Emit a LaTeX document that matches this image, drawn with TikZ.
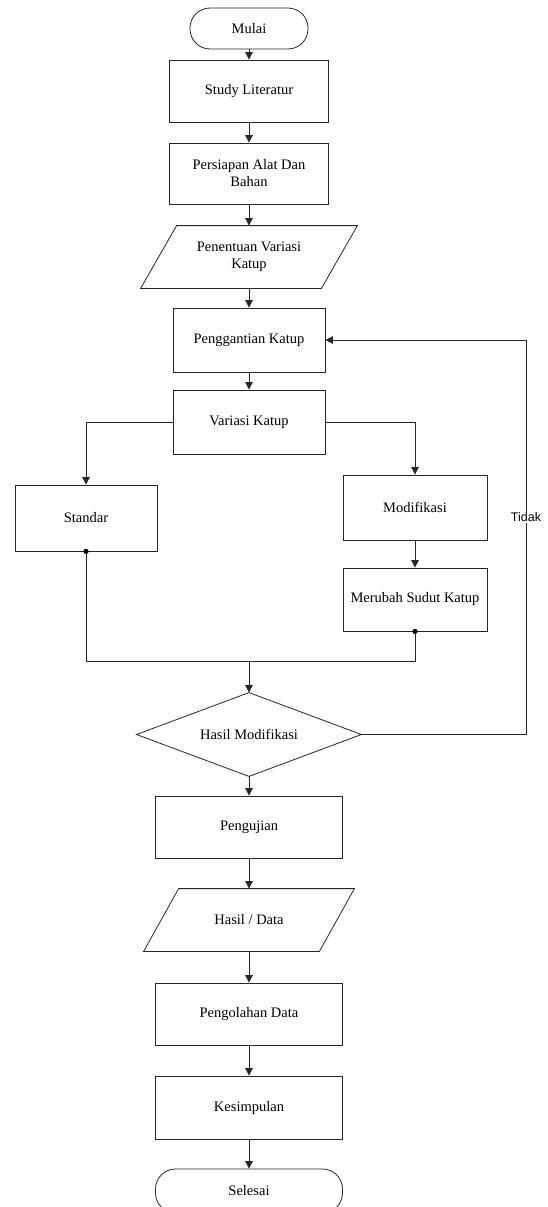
\documentclass[tikz,border=0pt]{standalone}
\usepackage{fontspec}
\setmainfont{Liberation Serif}
\newfontfamily\labelsans{Liberation Sans}
\usetikzlibrary{arrows.meta}
\tikzset{
  base/.style={font=\fontsize{14.5}{17}\selectfont, align=center, inner sep=1pt, line width=0.8pt, draw=black!85},
  procbox/.style={base, draw, rectangle},
  termbox/.style={base, draw, rectangle, rounded corners=20pt},
  shapebox/.style={base, draw=none, rectangle},
  conn/.style={line width=0.8pt, draw=black!85},
  arr/.style={conn, -{Triangle[width=7.5pt,length=7.5pt]}},
  outline/.style={line width=0.8pt, draw=black!85}
}
\begin{document}
\begin{tikzpicture}[x=1pt,y=-1pt]
\useasboundingbox (0,0) rectangle (548,1207);
% nodes
\node[termbox, minimum width=118, minimum height=41] (mulai) at (249,28.5) {Mulai};
\node[procbox, minimum width=159, minimum height=62] (study) at (249,91) {Study Literatur};
\node[procbox, minimum width=159, minimum height=61] (pers) at (249,173.5) {Persiapan Alat Dan\\Bahan};
\node[shapebox, minimum width=216, minimum height=62] (pen) at (249,257) {Penentuan Variasi\\Katup};
\draw[outline] ([xshift=36]pen.north west) -- (pen.north east) -- ([xshift=-36]pen.south east) -- (pen.south west) -- cycle;
\node[procbox, minimum width=152, minimum height=64] (peng) at (249,340) {Penggantian Katup};
\node[procbox, minimum width=152, minimum height=64] (var) at (249,422) {Variasi Katup};
\node[procbox, minimum width=142, minimum height=66] (std) at (86,518) {Standar};
\node[procbox, minimum width=144, minimum height=65] (mod) at (415,507.5) {Modifikasi};
\node[procbox, minimum width=144, minimum height=63] (mer) at (415,599.5) {Merubah Sudut Katup};
\node[shapebox, minimum width=224, minimum height=83] (dia) at (249,734.5) {Hasil Modifikasi};
\draw[outline] (dia.north) -- (dia.east) -- (dia.south) -- (dia.west) -- cycle;
\node[procbox, minimum width=187, minimum height=62] (uji) at (249,827) {Pengujian};
\node[shapebox, minimum width=210, minimum height=62] (hasil) at (249,920) {Hasil / Data};
\draw[outline] ([xshift=35]hasil.north west) -- (hasil.north east) -- ([xshift=-35]hasil.south east) -- (hasil.south west) -- cycle;
\node[procbox, minimum width=187, minimum height=62] (olah) at (249,1014) {Pengolahan Data};
\node[procbox, minimum width=187, minimum height=63] (kes) at (249,1107.5) {Kesimpulan};
\node[termbox, minimum width=187, minimum height=44] (sel) at (249,1191) {Selesai};
\coordinate (j) at (249,661);
\coordinate (fb) at (526,340);
% connectors
\draw[arr] (mulai) -- (study);
\draw[arr] (study) -- (pers);
\draw[arr] (pers) -- (pen.north);
\draw[arr] (pen.south) -- (peng);
\draw[arr] (peng) -- (var);
\draw[arr] (var.west) -| (std.north);
\draw[arr] (var.east) -| (mod.north);
\draw[arr] (mod) -- (mer);
\draw[conn] (std.south) -- (std.south |- j) -- (mer.south |- j) -- (mer.south);
\fill[black] (std.south) circle (2.6);
\fill[black] (mer.south) circle (2.6);
\draw[arr] (j) -- (dia.north);
\draw[arr] (dia.east) -- (dia.east -| fb) -- node[pos=0.55, fill=white, inner sep=1pt, font=\labelsans\fontsize{12.5}{14}\selectfont] (tidak) {Tidak} (fb) -- (peng.east);
\draw[arr] (dia.south) -- (uji);
\draw[arr] (uji) -- (hasil.north);
\draw[arr] (hasil.south) -- (olah);
\draw[arr] (olah) -- (kes);
\draw[arr] (kes) -- (sel);
\end{tikzpicture}
\end{document}
